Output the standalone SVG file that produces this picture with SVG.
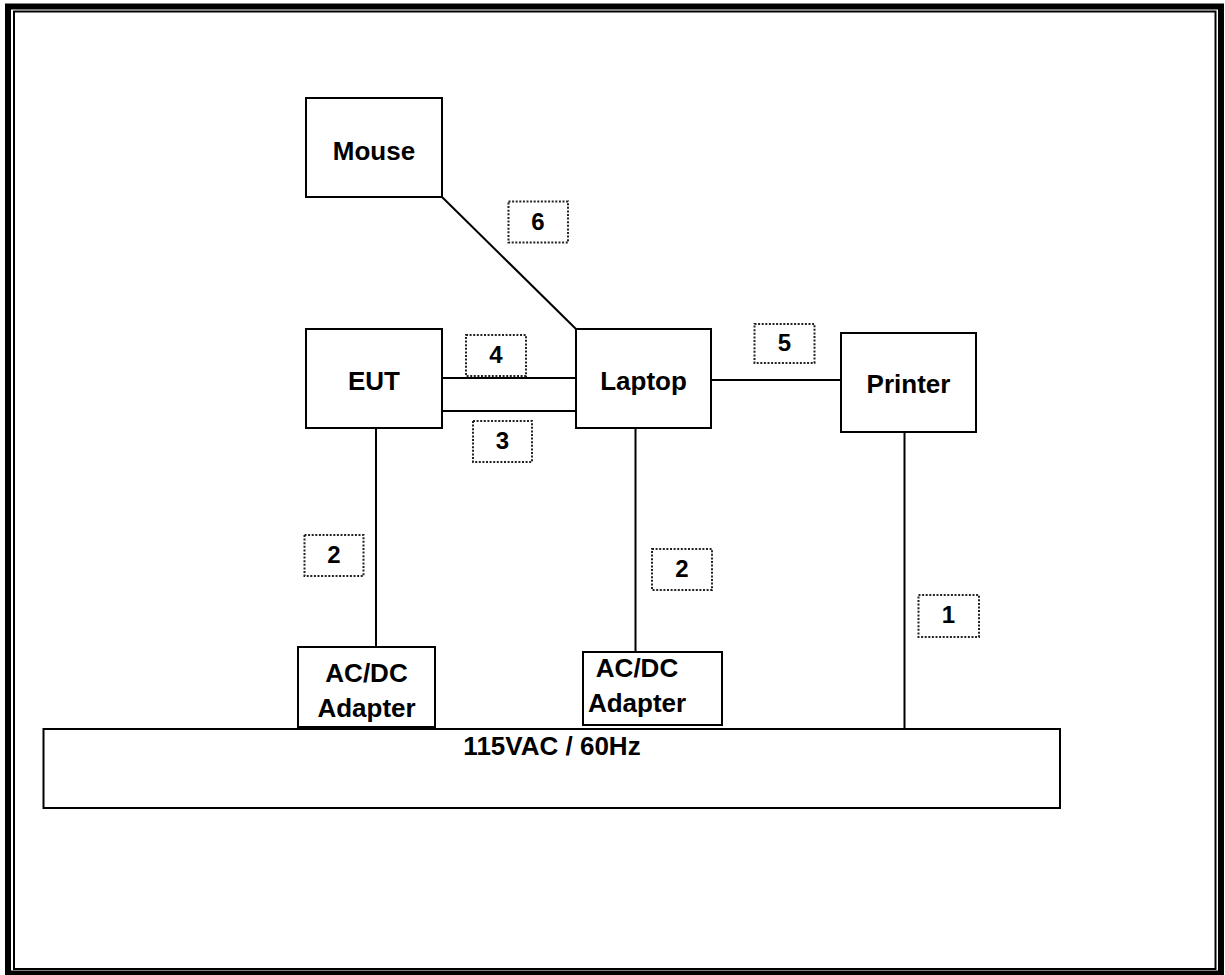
<svg xmlns="http://www.w3.org/2000/svg" width="1225" height="975" viewBox="0 0 1225 975">
<style>
.box{fill:#fff;stroke:#000;stroke-width:2}
.lbl{fill:#fff;stroke:#222;stroke-width:2;stroke-dasharray:2 1.6}
.ln{stroke:#000;stroke-width:2;fill:none}
.t{font-family:"Liberation Sans",Arial,sans-serif;font-weight:bold;font-size:26px;text-anchor:middle;fill:#000}
.n{font-family:"Liberation Sans",Arial,sans-serif;font-weight:bold;font-size:24px;text-anchor:middle;fill:#000}
</style>
<rect x="0" y="0" width="1225" height="975" fill="#fff"/>
<g id="border">
<rect x="8" y="6.5" width="1213" height="967" fill="none" stroke="#000" stroke-width="6"/>
<rect x="14" y="11.5" width="1201.5" height="957.5" fill="none" stroke="#000" stroke-width="2"/>
</g>
<g id="connectors">
<line class="ln" x1="442" y1="197" x2="576" y2="329"/>
<line class="ln" x1="442" y1="378" x2="576" y2="378"/>
<line class="ln" x1="438" y1="411" x2="576" y2="411"/>
<line class="ln" x1="711" y1="380" x2="841" y2="380"/>
<line class="ln" x1="376" y1="428" x2="376" y2="647"/>
<line class="ln" x1="635.5" y1="428" x2="635.5" y2="652"/>
<line class="ln" x1="904.5" y1="432" x2="904.5" y2="729"/>
</g>
<g id="power">
<rect class="box" x="43.5" y="729" width="1016.5" height="79"/>
<text class="t" x="552" y="755">115VAC / 60Hz</text>
</g>
<g id="mouse">
<rect class="box" x="306" y="98" width="136" height="99"/>
<text class="t" x="374" y="160">Mouse</text>
</g>
<g id="eut">
<rect class="box" x="306" y="329" width="136" height="99"/>
<text class="t" x="374" y="390">EUT</text>
</g>
<g id="laptop">
<rect class="box" x="576" y="329" width="135" height="99"/>
<text class="t" x="643.5" y="390">Laptop</text>
</g>
<g id="printer">
<rect class="box" x="841" y="333" width="135" height="99"/>
<text class="t" x="908.5" y="393">Printer</text>
</g>
<g id="adapter1">
<rect class="box" x="298" y="647" width="137" height="80"/>
<text class="t" x="366.5" y="682">AC/DC</text>
<text class="t" x="366.5" y="717">Adapter</text>
</g>
<g id="adapter2">
<rect class="box" x="583" y="652" width="139" height="73"/>
<text class="t" x="637" y="677">AC/DC</text>
<text class="t" x="637" y="712">Adapter</text>
</g>
<g id="label6"><rect class="lbl" x="508.5" y="201.5" width="59.5" height="41"/><text class="n" x="538" y="230">6</text></g>
<g id="label4"><rect class="lbl" x="466" y="335" width="60" height="41"/><text class="n" x="496" y="363">4</text></g>
<g id="label3"><rect class="lbl" x="473" y="421" width="59" height="41"/><text class="n" x="502.5" y="449">3</text></g>
<g id="label5"><rect class="lbl" x="754.5" y="324" width="60" height="39"/><text class="n" x="784.5" y="351">5</text></g>
<g id="label2a"><rect class="lbl" x="304.5" y="535" width="59" height="41"/><text class="n" x="334" y="563">2</text></g>
<g id="label2b"><rect class="lbl" x="652" y="549" width="60" height="41"/><text class="n" x="682" y="577">2</text></g>
<g id="label1"><rect class="lbl" x="918.5" y="595" width="60.5" height="42"/><text class="n" x="948.5" y="623">1</text></g>
</svg>
